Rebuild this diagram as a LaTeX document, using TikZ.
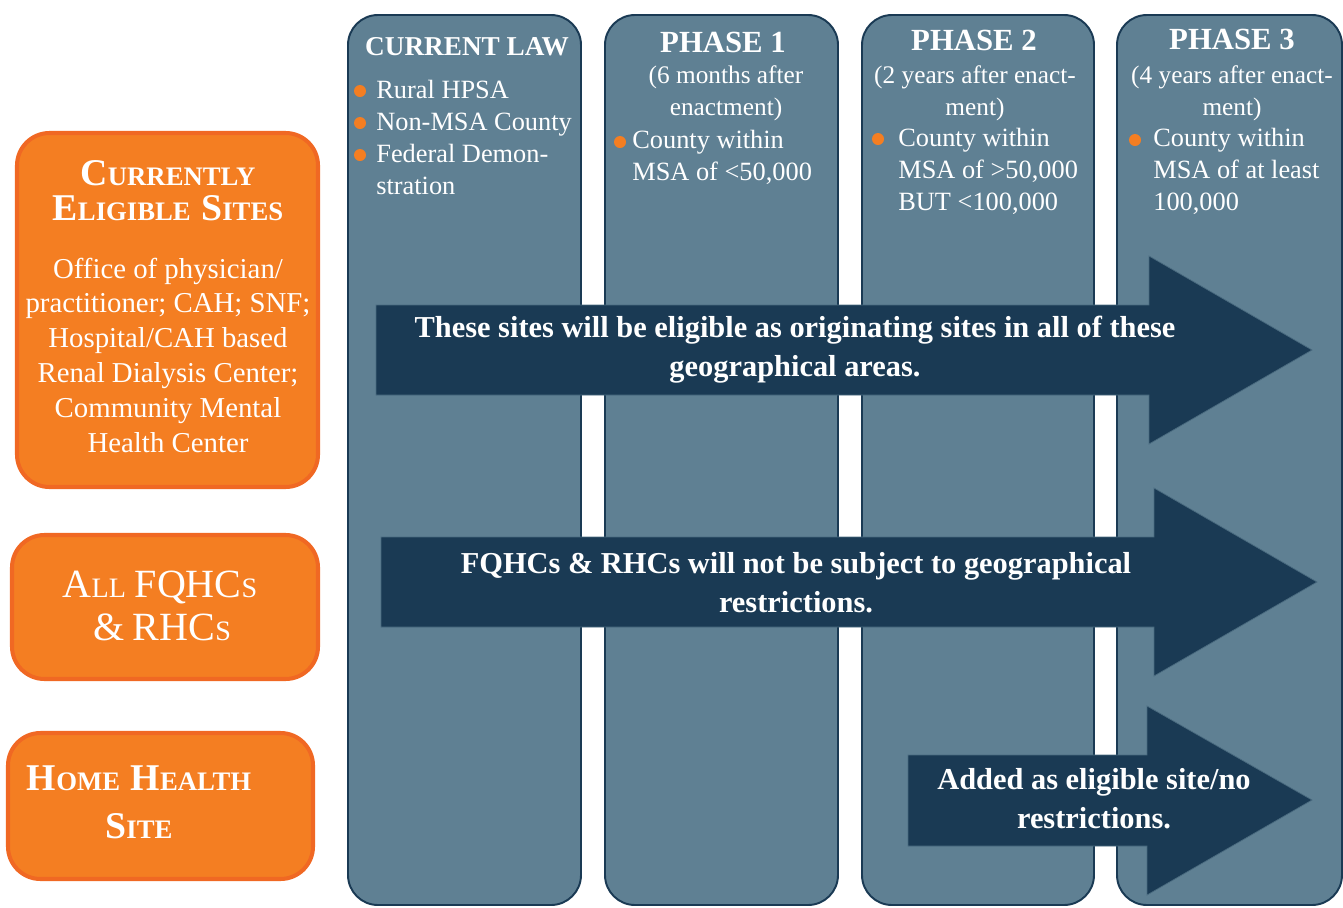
\documentclass[tikz,border=0pt]{standalone}
\usepackage{fontspec}
\setmainfont{Liberation Serif}
\usetikzlibrary{positioning}
\definecolor{colfill}{RGB}{95,128,147}
\definecolor{navy}{RGB}{26,58,84}
\definecolor{orfill}{RGB}{244,126,34}
\definecolor{orline}{RGB}{240,104,35}
\newcommand{\capsc}[2]{{\fontsize{21.5}{21.5}\selectfont #1}{\fontsize{15.2}{15.2}\selectfont #2}}
\newcommand{\capsr}[2]{{\fontsize{22.8}{22.8}\selectfont #1}{\fontsize{16}{16}\selectfont #2}}
\tikzset{col/.style={fill=colfill,draw=navy,line width=1.1pt,rounded corners=0.6cm}}
\tikzset{obox/.style={fill=orfill,draw=orline,line width=2.3pt,rounded corners=0.65cm}}
\tikzset{arw/.style={fill=navy,draw=colfill!70!navy,line width=0.4pt}}
\tikzset{hd/.style={text=white,font=\fontsize{17.5}{17.5}\selectfont\bfseries,inner sep=0pt,anchor=base}}
\tikzset{tx/.style={text=white,font=\fontsize{15}{18.1}\selectfont,inner sep=0pt,align=left,anchor=base west}}
\tikzset{sub/.style={text=white,font=\fontsize{14.4}{18.1}\selectfont,inner sep=0pt,align=center,anchor=base}}
\tikzset{dot/.style={circle,fill=orfill,inner sep=0pt,minimum size=0.24cm}}
\tikzset{ot/.style={text=white,font=\fontsize{16.4}{19.8}\selectfont,inner sep=0pt,align=center,anchor=base}}
\tikzset{arrtx/.style={text=white,font=\fontsize{17.3}{22.1}\selectfont\bfseries,inner sep=0pt,align=center,anchor=base}}
\begin{document}
\begin{tikzpicture}[x=0.02cm,y=-0.02cm]
  \useasboundingbox (0,0) rectangle (1343,907);
  % the four columns
  \draw[col] (348,15) rectangle (581,905);
  \draw[col] (605,15) rectangle (838,905);
  \draw[col] (862,15) rectangle (1094,905);
  \draw[col] (1117,15) rectangle (1342,905);
  % current law (multi-line nodes sit on their last baseline)
  \node[hd,font=\fontsize{15.5}{15.5}\selectfont\bfseries] (cl) at (467,55) {CURRENT LAW};
  \node[dot] (c1) at (360,91) {};
  \node[dot] (c2) at (360,123) {};
  \node[dot] (c3) at (360,155) {};
  \node[tx] (ct) at (376,194) {Rural HPSA\\Non-MSA County\\Federal Demon-\\stration};
  % phase 1
  \node[hd] (p1) at (723,52) {PHASE 1};
  \node[sub] (s1) at (726,115) {(6 months after\\enactment)};
  \node[dot] (b1) at (620,142) {};
  \node[tx] (t1) at (632,180) {County within\\MSA of <50,000};
  % phase 2
  \node[hd] (p2) at (974,50) {PHASE 2};
  \node[sub] (s2) at (975,115) {(2 years after enact-\\ment)};
  \node[dot] (b2) at (878,139) {};
  \node[tx] (t2) at (898,210) {County within\\MSA of >50,000\\BUT <100,000};
  % phase 3
  \node[hd] (p3) at (1232,49) {PHASE 3};
  \node[sub] (s3) at (1232,115) {(4 years after enact-\\ment)};
  \node[dot] (b3) at (1135,140) {};
  \node[tx] (t3) at (1153,210) {County within\\MSA of at least\\100,000};
  % orange boxes
  \draw[obox] (17,133) rectangle (318,487);
  \draw[obox] (12,535) rectangle (318,679);
  \draw[obox] (8,733) rectangle (313,879);
  \node[ot,font=\bfseries] (e1) at (168,185) {\capsc{C}{URRENTLY}};
  \node[ot,font=\bfseries] (e2) at (168,220) {\capsc{E}{LIGIBLE}\hspace{0.6em}\capsc{S}{ITES}};
  \node[ot] (e3) at (168,452) {Office of physician/\\practitioner; CAH; SNF;\\Hospital/CAH based\\Renal Dialysis Center;\\Community Mental\\Health Center};
  \node[ot,font=\normalfont] (f1) at (160,597) {\capsr{A}{LL}\hspace{0.5em}\capsr{FQHC}{S}};
  \node[ot,font=\normalfont] (f2) at (162,640) {\capsr{\&}{}\hspace{0.5em}\capsr{RHC}{S}};
  \node[ot,font=\bfseries] (h1) at (139,790) {\capsc{H}{OME}\hspace{0.6em}\capsc{H}{EALTH}};
  \node[ot,font=\bfseries] (h2) at (139,838) {\capsc{S}{ITE}};
  % arrows
  \filldraw[arw] (376,305) -- (1149,305) -- (1149,256) -- (1312,350) -- (1149,444) -- (1149,395) -- (376,395) -- cycle;
  \filldraw[arw] (381,537) -- (1154,537) -- (1154,488) -- (1317,582) -- (1154,676) -- (1154,627) -- (381,627) -- cycle;
  \filldraw[arw] (908,755) -- (1147,755) -- (1147,706) -- (1312,800) -- (1147,895) -- (1147,846) -- (908,846) -- cycle;
  \node[arrtx] (a1) at (795,376) {These sites will be eligible as originating sites in all of these\\geographical areas.};
  \node[arrtx] (a2) at (796,612) {FQHCs \& RHCs will not be subject to geographical\\restrictions.};
  \node[arrtx] (a3) at (1094,828) {Added as eligible site/no\\restrictions.};
\end{tikzpicture}
\end{document}
